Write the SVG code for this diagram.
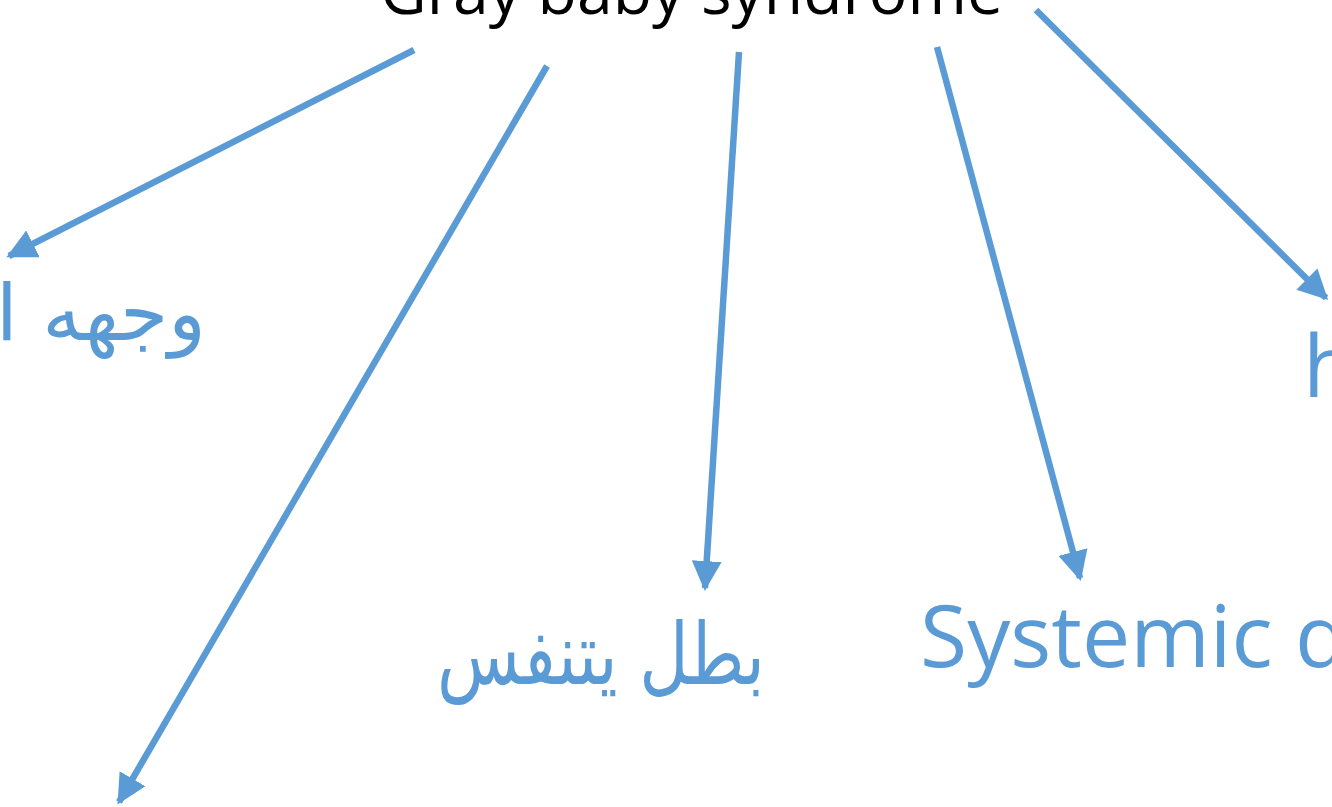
<svg xmlns="http://www.w3.org/2000/svg" width="1332" height="807" viewBox="0 0 1332 807">
  <style>
    .title { font-family: "Open Sans", "Liberation Sans", sans-serif; font-size: 64px; fill: #000000; }
    .lbl { font-family: "Open Sans", "Liberation Sans", sans-serif; fill: #5B9BD5; }
    .ar { font-family: "DejaVu Sans", "Noto Sans", sans-serif; fill: #5B9BD5; }
    .edge { stroke: #5B9BD5; stroke-width: 6.5; fill: none; marker-end: url(#head); }
  </style>
  <defs>
    <marker id="head" viewBox="0 0 10 10" refX="9" refY="5" markerWidth="4.6" markerHeight="4.6" orient="auto" markerUnits="strokeWidth">
      <path d="M0,0 L10,5 L0,10 Z" fill="#5B9BD5"/>
    </marker>
  </defs>

  <g id="title">
    <text class="title" x="380" y="14" textLength="623" lengthAdjust="spacingAndGlyphs">Gray baby syndrome</text>
  </g>

  <g id="connectors">
    <line class="edge" x1="414" y1="50" x2="9" y2="256"/>
    <line class="edge" x1="547" y1="66" x2="119" y2="802"/>
    <line class="edge" x1="739" y1="52" x2="705" y2="588"/>
    <line class="edge" x1="937" y1="47" x2="1080" y2="578"/>
    <line class="edge" x1="1036" y1="10" x2="1326" y2="298"/>
  </g>

  <g id="node-face">
    <text class="ar" x="206" y="340" font-size="78" text-anchor="end">وجهه ا</text>
  </g>
  <g id="node-breath">
    <text class="ar" x="765" y="684" font-size="86" text-anchor="end" textLength="328" lengthAdjust="spacingAndGlyphs">بطل يتنفس</text>
  </g>
  <g id="node-systemic">
    <text class="lbl" x="920" y="667" font-size="86">Systemic d</text>
  </g>
  <g id="node-h">
    <text class="lbl" x="1303" y="397" font-size="86">h</text>
  </g>
</svg>
